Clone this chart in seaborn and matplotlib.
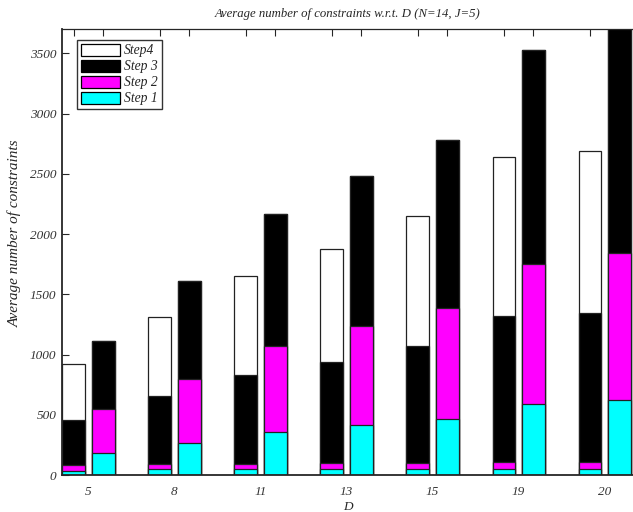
import numpy as np
import pandas as pd
import seaborn as sns
import matplotlib.pyplot as plt
from matplotlib.patches import Patch
from matplotlib.ticker import FixedLocator

# D values (groups)
d_values = ["5", "8", "11", "13", "15", "19", "20"]

# left bar of each group: four steps
left_step1 = [36, 47, 47, 47, 47, 50, 53]
left_step2 = [47, 47, 47, 53, 55, 60, 57]
left_step3 = [373, 562, 736, 838, 973, 1210, 1235]
left_step4 = [463, 653, 825, 937, 1077, 1320, 1347]

# right bar of each group: three steps
right_step1 = [180, 263, 357, 412, 467, 592, 620]
right_step2 = [370, 534, 718, 828, 918, 1163, 1225]
right_step3 = [562, 816, 1091, 1245, 1395, 1772, 1870]
right_step4 = [0, 0, 0, 0, 0, 0, 0]

step_names = ["Step 1", "Step 2", "Step 3", "Step4"]
step_colors = ["#00ffff", "#ff00ff", "#000000", "#ffffff"]

sns.set_style("ticks")
plt.rcParams["font.family"] = ["Liberation Serif", "DejaVu Serif"]
plt.rcParams["font.style"] = "italic"

left = np.cumsum([left_step1, left_step2, left_step3, left_step4], axis=0)
right = np.cumsum([right_step1, right_step2, right_step3, right_step4], axis=0)

fig = plt.figure(figsize=(6.33, 5.12), dpi=100)
ax = fig.add_axes([62 / 633, 37 / 512, 571 / 633, 445.7 / 512])

# stacked bars: draw the cumulative totals from top step down
for k in range(3, -1, -1):
    df = pd.DataFrame({
        "D": d_values * 2,
        "value": list(left[k]) + list(right[k]),
        "bar": ["left"] * 7 + ["right"] * 7,
    })
    sns.barplot(data=df, x="D", y="value", hue="bar", order=d_values,
                hue_order=["left", "right"],
                palette=[step_colors[k], step_colors[k]], saturation=1,
                width=0.676, gap=0.21, errorbar=None, legend=False,
                edgecolor="#222222", linewidth=0.9, ax=ax)

ax.set_xlim(-0.308, 6.331)
ax.set_ylim(0, 3700)
ax.set_yticks(np.arange(0, 3501, 500))

# top ticks at bar centres, bottom labels at group centres
centres = sorted([i - 0.169 for i in range(7)] + [i + 0.169 for i in range(7)])
ax.xaxis.set_minor_locator(FixedLocator(centres))
ax.tick_params(axis="x", which="major", length=0, pad=8, labelsize=9.5,
               labelcolor="#333333")
ax.tick_params(axis="x", which="minor", top=True, bottom=False,
               direction="in", length=5, width=0.8)
ax.tick_params(axis="y", direction="in", length=5, width=0.8, pad=4,
               labelsize=9.5, labelcolor="#333333")

for s in ["left", "bottom"]:
    ax.spines[s].set_linewidth(1.3)
ax.spines["top"].set_linewidth(0.9)
ax.spines["right"].set_visible(False)

ax.set_xlabel("D", fontsize=9.5, labelpad=2)
ax.set_ylabel("Average number of constraints", fontsize=11)
ax.yaxis.set_label_coords(-0.070, 0.543)
ax.set_title("Average number of constraints w.r.t. D (N=14, J=5)",
             fontsize=9.2, pad=9)

handles = [Patch(facecolor=step_colors[k], edgecolor="black", linewidth=0.9,
                 label=step_names[k]) for k in range(3, -1, -1)]
leg = ax.legend(handles=handles, loc="upper left", bbox_to_anchor=(0.026, 0.976),
                fontsize=9.8, frameon=True, fancybox=False, handlelength=2.9,
                handleheight=0.95, labelspacing=0.18, borderpad=0.28,
                handletextpad=0.3, borderaxespad=0)
leg.get_frame().set_edgecolor("black")
leg.get_frame().set_linewidth(1.0)

fig.savefig("out.png", dpi=100)
